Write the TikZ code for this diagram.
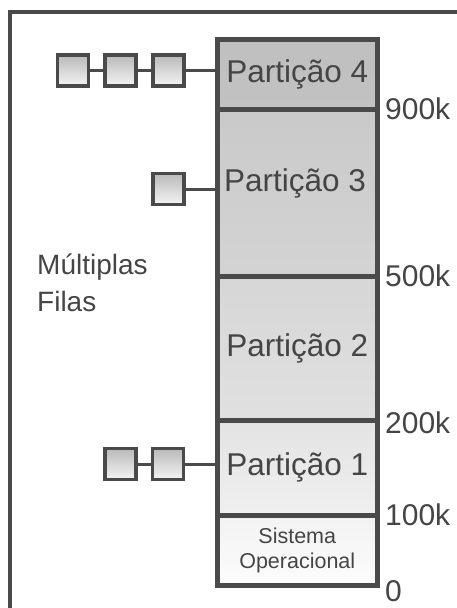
\documentclass[tikz,border=0pt]{standalone}
\usepackage{fontspec}
\setmainfont{Liberation Sans}
\definecolor{edge}{HTML}{4A4A4A}
\definecolor{ink}{HTML}{454545}
\begin{document}
\begin{tikzpicture}[x=1pt,y=-1pt,
  part/.style={draw=edge,line width=4.5pt,anchor=north west,inner sep=0pt,
    minimum width=160pt,text=ink,font=\fontsize{31.5}{34}\selectfont},
  qbox/.style={draw=edge,line width=3.8pt,minimum size=31pt,inner sep=0pt,
    top color=gray!55!white,bottom color=gray!8!white},
  link/.style={draw=edge,line width=3pt},
  addr/.style={text=ink,anchor=west,inner sep=0pt,font=\fontsize{30}{32}\selectfont}]
\useasboundingbox (0,0) rectangle (457,608);
% outer frame
\draw[edge,line width=4pt] (10,608) -- (10,12) -- (457,12);
% partitions
\node[part,minimum height=70pt,top color=black!25,bottom color=black!24] (p4) at (215,37) {Partição 4};
\node[part,minimum height=167pt,top color=black!21,bottom color=black!17] (p3) at (215,107) {};
\node[text=ink,font=\fontsize{31.5}{34}\selectfont] (t3) at (295,183) {Partição 3};
\node[part,minimum height=144pt,top color=black!16,bottom color=black!12] (p2) at (215,274) {Partição 2};
\node[part,minimum height=95pt,top color=black!11,bottom color=black!6] (p1) at (215,418) {Partição 1};
\node[part,minimum height=70pt,top color=black!5,bottom color=black!1,
  font=\fontsize{21.5}{25}\selectfont,align=center] (so) at (215,513) {Sistema\\Operacional};
% address marks
\node[addr] (m900) at (385,109) {900k};
\node[addr] (m500) at (385,276) {500k};
\node[addr] (m200) at (385,423) {200k};
\node[addr] (m100) at (385,515) {100k};
\node[addr] (m0) at (385,591) {0};
% label
\node[text=ink,anchor=west,inner sep=0pt,align=left,font=\fontsize{28}{37}\selectfont] (lbl) at (37,283) {Múltiplas\\Filas};
% queues
\node[qbox] (q41) at (73,70.5) {};
\node[qbox] (q42) at (120.5,70.5) {};
\node[qbox] (q43) at (168.5,70.5) {};
\draw[link] (q41) -- (q42);
\draw[link] (q42) -- (q43);
\draw[link] (q43.east) -- (q43 -| p4.west);
\node[qbox] (q31) at (168.5,189) {};
\draw[link] (q31.east) -- (q31 -| p3.west);
\node[qbox] (q11) at (120.5,464) {};
\node[qbox] (q12) at (168,464) {};
\draw[link] (q11) -- (q12);
\draw[link] (q12.east) -- (q12 -| p1.west);
\end{tikzpicture}
\end{document}
